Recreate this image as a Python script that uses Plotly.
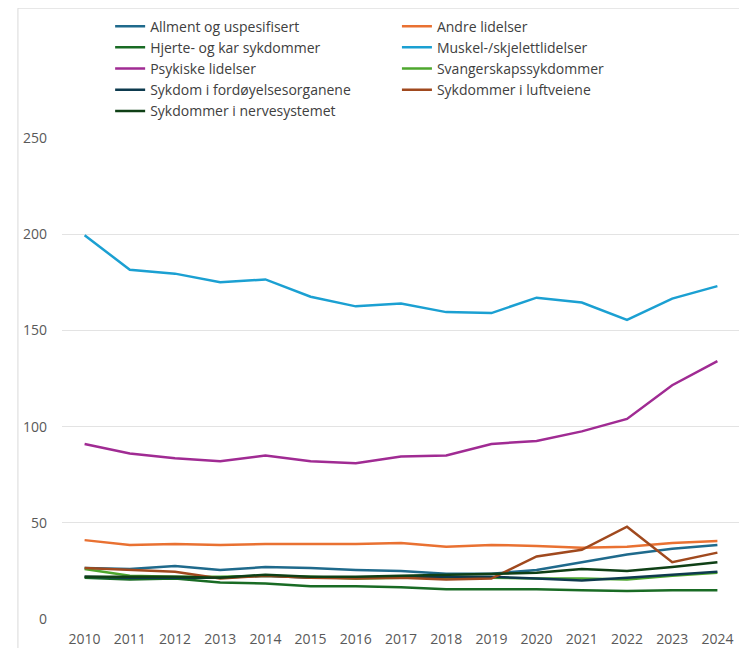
import plotly.graph_objects as go

years = [str(y) for y in range(2010, 2025)]

allment = [26.5, 26, 27.5, 25.5, 27, 26.5, 25.5, 25, 23.5, 23.5, 25.5, 29.5, 33.5, 36.5, 38.5]
andre = [41, 38.5, 39, 38.5, 39, 39, 39, 39.5, 37.5, 38.5, 38, 37, 37.5, 39.5, 40.5]
hjerte = [21.5, 20.5, 21, 19, 18.5, 17, 17, 16.5, 15.5, 15.5, 15.5, 15, 14.5, 15, 15]
muskel = [199.5, 181.5, 179.5, 175, 176.5, 167.5, 162.5, 164, 159.5, 159, 167, 164.5, 155.5, 166.5, 173]
psykiske = [91, 86, 83.5, 82, 85, 82, 81, 84.5, 85, 91, 92.5, 97.5, 104, 121.5, 134]
svangerskap = [26, 22.5, 22, 22, 22.5, 22, 21, 21.5, 21.5, 21.5, 21, 21, 20.5, 22.5, 24]
fordoyelse = [22, 21.5, 21.5, 21.5, 22.5, 21.5, 21.5, 22, 22, 22, 21, 20, 21.5, 23, 24.5]
luftveiene = [26.5, 25.5, 24.5, 21, 22.5, 21.5, 21, 21.5, 20.5, 21, 32.5, 36, 48, 29.5, 34.5]
nerve = [22, 22, 22, 21.5, 23, 22, 22, 22.5, 23, 23.5, 24, 26, 25, 27, 29.5]

y_ticks = [0, 50, 100, 150, 200, 250]

series = [
    ("Allment og uspesifisert", allment, "#1F6A8C", "legend"),
    ("Andre lidelser", andre, "#E97132", "legend2"),
    ("Hjerte- og kar sykdommer", hjerte, "#196B24", "legend"),
    ("Muskel-/skjelettlidelser", muskel, "#1BA0D2", "legend2"),
    ("Psykiske lidelser", psykiske, "#A02B93", "legend"),
    ("Svangerskapssykdommer", svangerskap, "#4EA72E", "legend2"),
    ("Sykdom i fordøyelsesorganene", fordoyelse, "#0D3A4E", "legend"),
    ("Sykdommer i luftveiene", luftveiene, "#A0491E", "legend2"),
    ("Sykdommer i nervesystemet", nerve, "#0F4016", "legend"),
]

fig = go.Figure()
for name, vals, color, lg in series:
    fig.add_trace(go.Scatter(
        x=years, y=vals, name=name, mode="lines",
        line=dict(color=color, width=2.5),
        legend=lg,
    ))

legend_common = dict(
    orientation="v", bgcolor="rgba(0,0,0,0)",
    font=dict(family="Open Sans", size=14, color="#404040"),
    itemwidth=30, tracegroupgap=0, traceorder="normal",
    xanchor="left", yanchor="top",
)

fig.update_layout(
    width=739, height=640,
    margin=dict(l=54, r=7, t=130, b=29, autoexpand=False),
    paper_bgcolor="white", plot_bgcolor="white",
    showlegend=True,
    legend=dict(x=0.071, y=1.265, **legend_common),
    legend2=dict(x=0.494, y=1.265, **legend_common),
    xaxis=dict(
        type="category", range=[-0.5, 14.5], automargin=False,
        showgrid=False, zeroline=False, showline=False,
        ticks="", tickfont=dict(family="Open Sans", size=14, color="#595959"),
        ticklabelstandoff=10,
    ),
    yaxis=dict(
        range=[0, 250], tickvals=y_ticks, automargin=False,
        showgrid=True, gridcolor="#e3e3e3", gridwidth=1,
        zeroline=False, showline=False, ticks="",
        tickfont=dict(family="Open Sans", size=14, color="#595959"),
        ticklabelstandoff=14,
    ),
    shapes=[dict(
        type="rect", xref="paper", yref="paper",
        x0=-0.065, x1=1.05, y0=-0.2, y1=1.27,
        line=dict(color="#d9d9d9", width=1), fillcolor="rgba(0,0,0,0)",
        layer="below",
    )],
)

fig.write_html("out.html")
